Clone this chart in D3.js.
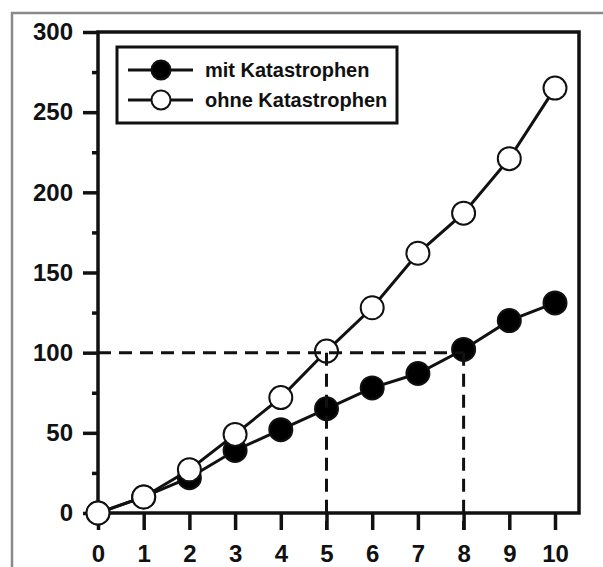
<!DOCTYPE html>
<html lang="de">
<head>
    <meta charset="UTF-8">
    <title>mit / ohne Katastrophen</title>
    <script src="https://d3js.org/d3.v7.min.js"></script>
    <style>
        body { margin: 0; background: #fff; }
        svg text { font-family: "Liberation Sans", Arial, sans-serif; font-weight: bold; fill: #111; }
    </style>
</head>
<body>
    <svg width="603" height="567" id="chart"></svg>
    <script>
        // data
        const years = [0, 1, 2, 3, 4, 5, 6, 7, 8, 9, 10];
        const mitKatastrophen = [0, 10, 22, 39, 52, 65, 78, 87, 102, 120, 131];
        const ohneKatastrophen = [0, 10, 27, 49, 72, 101, 128, 162, 187, 221, 265];
        const seriesNames = ["mit Katastrophen", "ohne Katastrophen"];
        const yMajorTicks = [0, 50, 100, 150, 200, 250, 300];
        const yMinorTicks = [25, 75, 125, 175, 225, 275];
        const guideValue = 100;
        const guideYears = [5, 8];

        const svg = d3.select("#chart");
        const plotLeft = 98, plotRight = 579, plotTop = 32, plotBottom = 513;

        const x = d3.scaleLinear().domain([0, 10]).range([plotLeft, plotLeft + 457]);
        const y = d3.scaleLinear().domain([0, 300]).range([plotBottom, plotTop]);

        // outer gray frame
        svg.append("rect")
            .attr("x", 12).attr("y", 13)
            .attr("width", 600).attr("height", 600)
            .attr("fill", "none").attr("stroke", "#8a8a8a").attr("stroke-width", 2.5);

        // plot frame
        svg.append("rect")
            .attr("x", plotLeft).attr("y", plotTop)
            .attr("width", plotRight - plotLeft).attr("height", plotBottom - plotTop)
            .attr("fill", "none").attr("stroke", "#111").attr("stroke-width", 3.5);

        // y axis, major ticks with labels
        const yAxis = svg.append("g")
            .attr("transform", `translate(${plotLeft},0)`)
            .call(d3.axisLeft(y).tickValues(yMajorTicks).tickSize(15).tickPadding(10));
        // y axis minor ticks
        const yMinor = svg.append("g")
            .attr("transform", `translate(${plotLeft},0)`)
            .call(d3.axisLeft(y).tickValues(yMinorTicks).tickSize(6).tickFormat(""));

        // x axis
        const xAxis = svg.append("g")
            .attr("transform", `translate(0,${plotBottom})`)
            .call(d3.axisBottom(x).tickValues(years).tickSize(17).tickPadding(15).tickFormat(d3.format("d")));

        [yAxis, yMinor, xAxis].forEach(g => {
            g.select(".domain").remove();
            g.selectAll(".tick line").attr("stroke", "#111").attr("stroke-width", 3.5);
            g.selectAll(".tick text").attr("font-size", 24);
        });

        // series
        const line = d3.line().x((d, i) => x(years[i])).y(d => y(d));
        const series = [
            { name: seriesNames[0], values: mitKatastrophen, fill: "#000" },
            { name: seriesNames[1], values: ohneKatastrophen, fill: "#fff" }
        ];

        series.forEach(s => {
            svg.append("path")
                .datum(s.values)
                .attr("d", line)
                .attr("fill", "none")
                .attr("stroke", "#111")
                .attr("stroke-width", 3);

            svg.append("g").selectAll("circle")
                .data(s.values)
                .enter().append("circle")
                .attr("cx", (d, i) => x(years[i]))
                .attr("cy", d => y(d))
                .attr("r", 11.5)
                .attr("fill", s.fill)
                .attr("stroke", "#111")
                .attr("stroke-width", 2);
        });

        // dashed guide lines at 100
        const dash = "13,8";
        svg.append("line")
            .attr("x1", x(0)).attr("x2", x(d3.max(guideYears)))
            .attr("y1", y(guideValue)).attr("y2", y(guideValue))
            .attr("stroke", "#111").attr("stroke-width", 3).attr("stroke-dasharray", dash);
        svg.append("g").selectAll("line")
            .data(guideYears)
            .enter().append("line")
            .attr("x1", d => x(d)).attr("x2", d => x(d))
            .attr("y1", y(guideValue)).attr("y2", plotBottom + 17)
            .attr("stroke", "#111").attr("stroke-width", 3).attr("stroke-dasharray", dash);

        // legend
        const legend = svg.append("g");
        legend.append("rect")
            .attr("x", 117).attr("y", 47)
            .attr("width", 280).attr("height", 76)
            .attr("fill", "#fff").attr("stroke", "#111").attr("stroke-width", 3);

        series.forEach((s, i) => {
            const ly = 70 + i * 30;
            legend.append("line")
                .attr("x1", 128).attr("x2", 193)
                .attr("y1", ly).attr("y2", ly)
                .attr("stroke", "#111").attr("stroke-width", 3);
            legend.append("circle")
                .attr("cx", 161).attr("cy", ly).attr("r", 9.5)
                .attr("fill", s.fill).attr("stroke", "#111").attr("stroke-width", 2);
            legend.append("text")
                .attr("x", 205).attr("y", ly)
                .attr("dy", "0.36em")
                .attr("font-size", 20)
                .text(s.name);
        });
    </script>
</body>
</html>
